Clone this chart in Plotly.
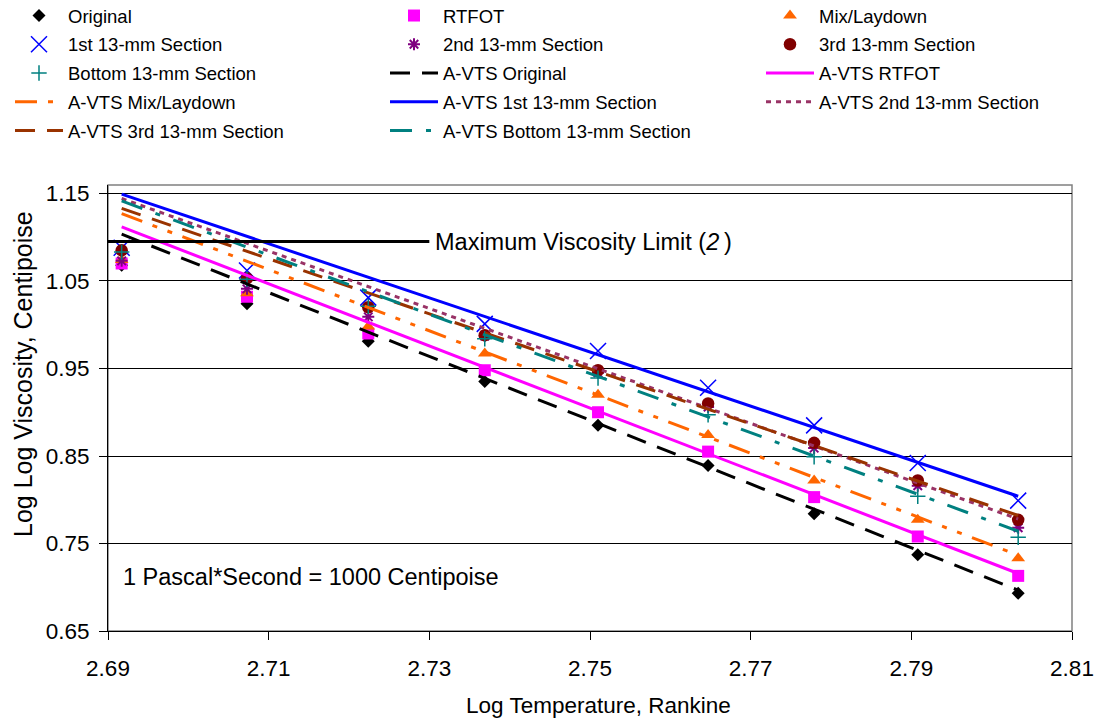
import plotly.graph_objects as go

# ---------------- data ----------------
log_temp = [2.6917, 2.7073, 2.7224, 2.7369, 2.7510, 2.7647, 2.7779, 2.7908, 2.8033]

original = [1.068, 1.024, 0.981, 0.935, 0.885, 0.839, 0.784, 0.737, 0.693]
rtfot = [1.070, 1.032, 0.990, 0.948, 0.900, 0.855, 0.803, 0.758, 0.713]
mix_laydown = [1.074, 1.036, 0.998, 0.967, 0.920, 0.874, 0.822, 0.777, 0.733]
sec1 = [1.088, 1.062, 1.031, 1.001, 0.970, 0.928, 0.885, 0.842, 0.799]
sec2 = [1.073, 1.041, 1.009, 0.987, 0.945, 0.906, 0.859, 0.816, 0.768]
sec3 = [1.085, 1.053, 1.020, 0.988, 0.948, 0.910, 0.865, 0.822, 0.777]
bottom = [1.083, 1.052, 1.021, 0.984, 0.939, 0.897, 0.849, 0.804, 0.757]

avts_x = [2.6917, 2.8033]
avts_original = [1.1035, 0.6966]
avts_rtfot = [1.1118, 0.7157]
avts_mix = [1.1271, 0.7366]
avts_sec1 = [1.1492, 0.8040]
avts_sec2 = [1.1443, 0.7780]
avts_sec3 = [1.1329, 0.7820]
avts_bottom = [1.1415, 0.7640]

limit_x = [2.69, 2.73]
limit_y = [1.095, 1.095]

x_ticks = [2.69, 2.71, 2.73, 2.75, 2.77, 2.79, 2.81]
y_ticks = [0.65, 0.75, 0.85, 0.95, 1.05, 1.15]

FONT = "Liberation Sans, Arial, sans-serif"

fig = go.Figure()

marker_series = [
    ("Original", original, dict(symbol="diamond", size=10, color="#000000"), "legend"),
    ("RTFOT", rtfot, dict(symbol="square", size=12, color="#FF00FF"), "legend2"),
    ("Mix/Laydown", mix_laydown, dict(symbol="triangle-up", size=12, color="#FF6600"), "legend3"),
    ("1st 13-mm Section", sec1, dict(symbol="x-thin-open", size=16, color="#0000FF",
                                    line=dict(color="#0000FF", width=1.5)), "legend"),
    ("2nd 13-mm Section", sec2, dict(symbol="asterisk-open", size=10, color="#800080",
                                    line=dict(color="#800080", width=2)), "legend2"),
    ("3rd 13-mm Section", sec3, dict(symbol="circle", size=12.5, color="#800000"), "legend3"),
    ("Bottom 13-mm Section", bottom, dict(symbol="cross-thin-open", size=11, color="#008080",
                                        line=dict(color="#008080", width=1.5)), "legend"),
]
for name, ys, mk, lg in marker_series:
    fig.add_trace(go.Scatter(x=log_temp, y=ys, mode="markers", name=name, marker=mk,
                             legend=lg, legendgroup=name))

line_series = [
    ("A-VTS Original", avts_original, "#000000", "20px,12px", "legend2"),
    ("A-VTS RTFOT", avts_rtfot, "#FF00FF", "solid", "legend3"),
    ("A-VTS Mix/Laydown", avts_mix, "#FF6600", "22px,11px,5px,11px,5px,11px", "legend"),
    ("A-VTS 1st 13-mm Section", avts_sec1, "#0000FF", "solid", "legend2"),
    ("A-VTS 2nd 13-mm Section", avts_sec2, "#993366", "5px,5px", "legend3"),
    ("A-VTS 3rd 13-mm Section", avts_sec3, "#993300", "20px,12px", "legend"),
    ("A-VTS Bottom 13-mm Section", avts_bottom, "#008080", "22px,14px,5px,14px", "legend2"),
]
for name, ys, col, dash, lg in line_series:
    fig.add_trace(go.Scatter(x=avts_x, y=ys, mode="lines", name=name,
                             line=dict(color=col, width=3, dash=dash),
                             legend=lg, legendgroup=name))

fig.add_trace(go.Scatter(x=limit_x, y=limit_y, mode="lines", showlegend=False,
                         line=dict(color="#000000", width=3), hoverinfo="skip"))

legend_common = dict(orientation="v", xref="container", yref="paper", y=1 + 188 / 446,
                     xanchor="left", yanchor="top", traceorder="grouped",
                     tracegroupgap=1.7, itemwidth=48, bgcolor="rgba(0,0,0,0)",
                     font=dict(family=FONT, size=18.5, color="#000000"))

fig.update_layout(
    width=1096, height=719,
    margin=dict(l=108, r=24, t=185, b=88, autoexpand=False),
    paper_bgcolor="white", plot_bgcolor="white",
    font=dict(family=FONT, color="#000000"),
    legend=dict(legend_common, x=10 / 1096),
    legend2=dict(legend_common, x=385 / 1096),
    legend3=dict(legend_common, x=761 / 1096),
    xaxis=dict(range=[2.69, 2.81], tickvals=x_ticks, ticktext=[f"{v:.2f}" for v in x_ticks],
               showgrid=False, zeroline=False, showline=True, linecolor="#000000", linewidth=1,
               ticks="outside", ticklen=8, tickcolor="#000000", ticklabelstandoff=9,
               tickfont=dict(family=FONT, size=22.5)),
    yaxis=dict(range=[0.65, 1.1597], tickvals=y_ticks, ticktext=[f"{v:.2f}" for v in y_ticks],
               showgrid=True, gridcolor="#000000", gridwidth=1, zeroline=False,
               showline=True, linecolor="#000000", linewidth=1,
               ticks="outside", ticklen=8, tickcolor="#000000", ticklabelstandoff=5,
               tickfont=dict(family=FONT, size=22.5)),
    shapes=[dict(type="rect", xref="paper", yref="paper", x0=0, x1=1, y0=0, y1=1,
                 line=dict(color="#808080", width=1.5), layer="below")],
    annotations=[
        dict(text="Maximum Viscosity Limit (<i>2</i>\u2009)", x=2.7305, y=1.095, xref="x", yref="y",
             xanchor="left", yanchor="middle", showarrow=False,
             font=dict(family=FONT, size=23.5)),
        dict(text="1 Pascal*Second = 1000 Centipoise", x=(121 - 108) / 964, y=0.712,
             xref="paper", yref="y", xanchor="left", yanchor="middle", showarrow=False,
             font=dict(family=FONT, size=23.5)),
        dict(text="Log Temperature, Rankine", x=(598 - 108) / 964, y=-(705 - 631) / 446,
             xref="paper", yref="paper", xanchor="center", yanchor="middle", showarrow=False,
             font=dict(family=FONT, size=22.5)),
        dict(text="Log Log Viscosity, Centipoise", x=-(108 - 23) / 964, y=1 - (374 - 185) / 446,
             xref="paper", yref="paper", xanchor="center", yanchor="middle", textangle=-90,
             showarrow=False, font=dict(family=FONT, size=25)),
    ],
)

fig.write_html("out.html", config={"displayModeBar": False},
               post_script="document.body.style.margin='0px';")
